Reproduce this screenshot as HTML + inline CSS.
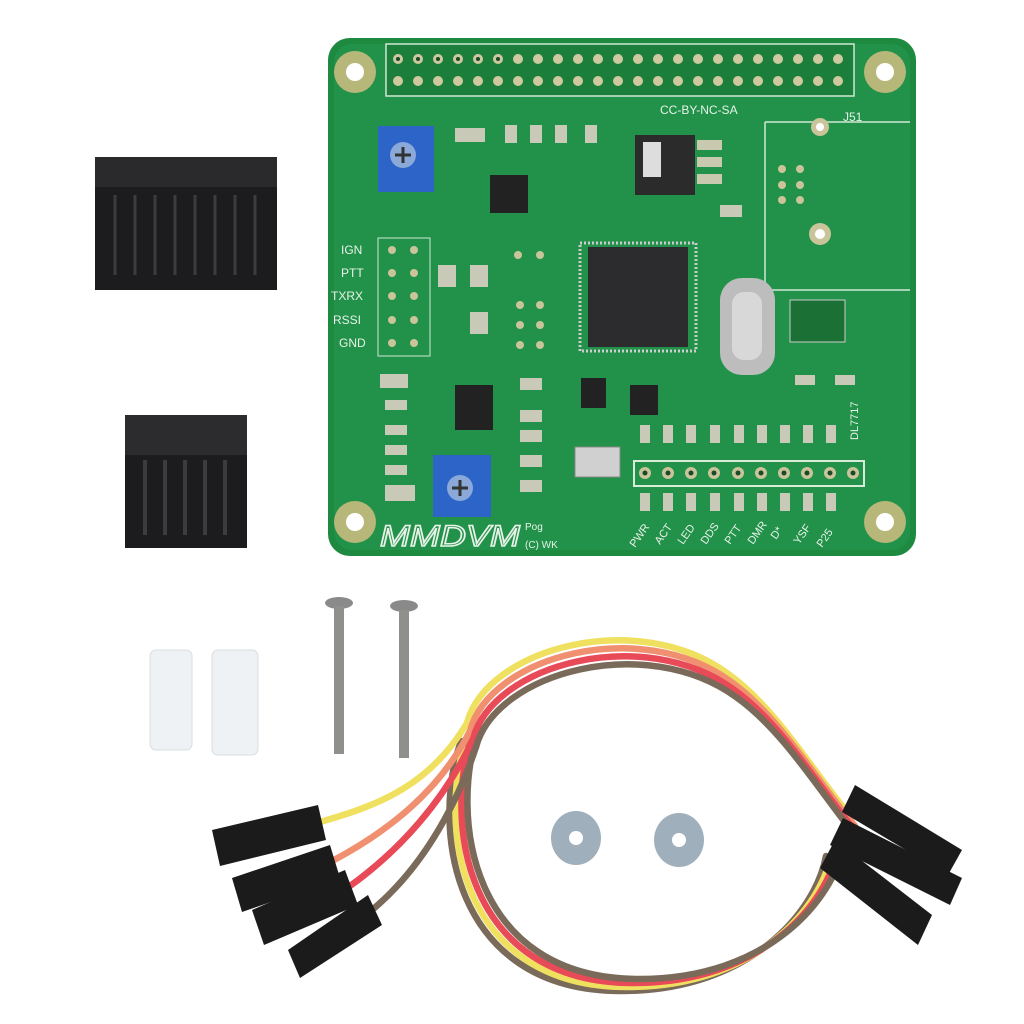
<!DOCTYPE html>
<html><head><meta charset="utf-8"><style>
html,body{margin:0;padding:0;background:#fff;}
svg{display:block}
text{font-family:"Liberation Sans",sans-serif;}
</style></head><body>
<svg width="1024" height="1024" viewBox="0 0 1024 1024" xmlns="http://www.w3.org/2000/svg">
<defs>
<path id="wa" d="M470 735 C490 660,640 620,730 685 C780 720,820 790,855 830"/>
<path id="wb" d="M470 735 C440 820,460 985,630 985 C760 985,825 905,835 850"/>
</defs>
<rect width="1024" height="1024" fill="#fff"/>
<!-- PCB -->
<rect x="328" y="38" width="588" height="518" rx="22" fill="#1e8a40"/>
<rect x="334" y="44" width="576" height="506" rx="18" fill="#22924a"/>
<g fill="#b8b77a"><circle cx="355" cy="72" r="21"/><circle cx="885" cy="72" r="21"/><circle cx="355" cy="522" r="21"/><circle cx="885" cy="522" r="21"/></g>
<g fill="#fff"><circle cx="355" cy="72" r="9"/><circle cx="885" cy="72" r="9"/><circle cx="355" cy="522" r="9"/><circle cx="885" cy="522" r="9"/></g>
<rect x="386" y="44" width="468" height="52" fill="#1c7e3b" stroke="#cfe8d4" stroke-width="1.5"/>
<g fill="#cfc9a0">
<circle cx="398" cy="59" r="5"/><circle cx="418" cy="59" r="5"/><circle cx="438" cy="59" r="5"/><circle cx="458" cy="59" r="5"/><circle cx="478" cy="59" r="5"/><circle cx="498" cy="59" r="5"/><circle cx="518" cy="59" r="5"/><circle cx="538" cy="59" r="5"/><circle cx="558" cy="59" r="5"/><circle cx="578" cy="59" r="5"/><circle cx="598" cy="59" r="5"/><circle cx="618" cy="59" r="5"/><circle cx="638" cy="59" r="5"/><circle cx="658" cy="59" r="5"/><circle cx="678" cy="59" r="5"/><circle cx="698" cy="59" r="5"/><circle cx="718" cy="59" r="5"/><circle cx="738" cy="59" r="5"/><circle cx="758" cy="59" r="5"/><circle cx="778" cy="59" r="5"/><circle cx="798" cy="59" r="5"/><circle cx="818" cy="59" r="5"/><circle cx="838" cy="59" r="5"/>
<circle cx="398" cy="81" r="5"/><circle cx="418" cy="81" r="5"/><circle cx="438" cy="81" r="5"/><circle cx="458" cy="81" r="5"/><circle cx="478" cy="81" r="5"/><circle cx="498" cy="81" r="5"/><circle cx="518" cy="81" r="5"/><circle cx="538" cy="81" r="5"/><circle cx="558" cy="81" r="5"/><circle cx="578" cy="81" r="5"/><circle cx="598" cy="81" r="5"/><circle cx="618" cy="81" r="5"/><circle cx="638" cy="81" r="5"/><circle cx="658" cy="81" r="5"/><circle cx="678" cy="81" r="5"/><circle cx="698" cy="81" r="5"/><circle cx="718" cy="81" r="5"/><circle cx="738" cy="81" r="5"/><circle cx="758" cy="81" r="5"/><circle cx="778" cy="81" r="5"/><circle cx="798" cy="81" r="5"/><circle cx="818" cy="81" r="5"/><circle cx="838" cy="81" r="5"/>
</g>
<g fill="#1a4a2a"><circle cx="398" cy="59" r="2"/><circle cx="418" cy="59" r="2"/><circle cx="438" cy="59" r="2"/><circle cx="458" cy="59" r="2"/><circle cx="478" cy="59" r="2"/><circle cx="498" cy="59" r="2"/></g>
<text x="660" y="114" font-size="12" fill="#e8f2e8">CC-BY-NC-SA</text>
<text x="843" y="121" font-size="12" fill="#e8f2e8">J51</text>
<path d="M765 122 H910 M765 122 V290 M765 290 H910" stroke="#cfe8d4" fill="none" stroke-width="1.5"/>
<circle cx="820" cy="127" r="9" fill="#c9c49a"/><circle cx="820" cy="127" r="4" fill="#fff"/>
<circle cx="820" cy="234" r="11" fill="#c9c49a"/><circle cx="820" cy="234" r="5" fill="#fff"/>
<g fill="#c9c49a"><circle cx="782" cy="169" r="4"/><circle cx="800" cy="169" r="4"/><circle cx="782" cy="185" r="4"/><circle cx="800" cy="185" r="4"/><circle cx="782" cy="200" r="4"/><circle cx="800" cy="200" r="4"/></g>
<rect x="635" y="135" width="60" height="60" fill="#2b2b2b"/><rect x="643" y="142" width="18" height="35" fill="#ddd"/>
<rect x="697" y="140" width="25" height="10" fill="#c9c9b0"/><rect x="697" y="157" width="25" height="10" fill="#c9c9b0"/><rect x="697" y="174" width="25" height="10" fill="#c9c9b0"/>
<rect x="378" y="126" width="56" height="66" fill="#2d64c8"/><circle cx="403" cy="155" r="13" fill="#8aa8d8"/><path d="M395 155h16M403 147v16" stroke="#333" stroke-width="3"/>
<rect x="433" y="455" width="58" height="62" fill="#2d64c8"/><circle cx="460" cy="488" r="13" fill="#8aa8d8"/><path d="M452 488h16M460 480v16" stroke="#333" stroke-width="3"/>
<rect x="490" y="175" width="38" height="38" fill="#222"/>
<rect x="455" y="385" width="38" height="45" fill="#222"/>
<rect x="588" y="247" width="100" height="100" fill="#2c2c2e"/>
<rect x="580" y="243" width="116" height="108" fill="none" stroke="#ccc" stroke-width="3" stroke-dasharray="2 2"/>
<rect x="720" y="278" width="55" height="97" rx="22" fill="#bdbdbd"/><rect x="732" y="292" width="30" height="68" rx="12" fill="#d8d8d8"/>
<rect x="575" y="447" width="45" height="30" fill="#d0d0d0" stroke="#888"/>
<rect x="581" y="378" width="25" height="30" fill="#222"/><rect x="630" y="385" width="28" height="30" fill="#222"/>
<g fill="#c9c9b8">
<rect x="455" y="128" width="30" height="14"/><rect x="505" y="125" width="12" height="18"/><rect x="530" y="125" width="12" height="18"/><rect x="555" y="125" width="12" height="18"/><rect x="585" y="125" width="12" height="18"/>
<rect x="380" y="374" width="28" height="14"/><rect x="385" y="485" width="30" height="16"/><rect x="720" y="205" width="22" height="12"/>
<rect x="438" y="265" width="18" height="22"/><rect x="470" y="265" width="18" height="22"/><rect x="470" y="312" width="18" height="22"/>
<rect x="520" y="378" width="22" height="12"/><rect x="520" y="410" width="22" height="12"/><rect x="520" y="430" width="22" height="12"/><rect x="520" y="455" width="22" height="12"/><rect x="520" y="480" width="22" height="12"/>
<rect x="385" y="400" width="22" height="10"/><rect x="385" y="425" width="22" height="10"/><rect x="385" y="445" width="22" height="10"/><rect x="385" y="465" width="22" height="10"/>
<rect x="795" y="375" width="20" height="10"/><rect x="835" y="375" width="20" height="10"/>
</g>
<rect x="790" y="300" width="55" height="42" fill="#1a7035" stroke="#ccc"/>
<rect x="378" y="238" width="52" height="118" fill="none" stroke="#cfe8d4"/>
<g fill="#c9c49a">
<circle cx="392" cy="250" r="4"/><circle cx="414" cy="250" r="4"/><circle cx="392" cy="273" r="4"/><circle cx="414" cy="273" r="4"/><circle cx="392" cy="296" r="4"/><circle cx="414" cy="296" r="4"/><circle cx="392" cy="320" r="4"/><circle cx="414" cy="320" r="4"/><circle cx="392" cy="343" r="4"/><circle cx="414" cy="343" r="4"/>
<circle cx="520" cy="305" r="4"/><circle cx="540" cy="305" r="4"/><circle cx="520" cy="325" r="4"/><circle cx="540" cy="325" r="4"/><circle cx="520" cy="345" r="4"/><circle cx="540" cy="345" r="4"/>
<circle cx="518" cy="255" r="4"/><circle cx="540" cy="255" r="4"/>
</g>
<g font-size="12" fill="#e8f2e8">
<text x="341" y="254">IGN</text><text x="341" y="277">PTT</text><text x="331" y="300">TXRX</text><text x="333" y="324">RSSI</text><text x="339" y="347">GND</text>
</g>
<g fill="#c9c9b8">
<rect x="640" y="425" width="10" height="18"/><rect x="663" y="425" width="10" height="18"/><rect x="686" y="425" width="10" height="18"/><rect x="710" y="425" width="10" height="18"/><rect x="734" y="425" width="10" height="18"/><rect x="757" y="425" width="10" height="18"/><rect x="780" y="425" width="10" height="18"/><rect x="803" y="425" width="10" height="18"/><rect x="826" y="425" width="10" height="18"/>
<rect x="640" y="493" width="10" height="18"/><rect x="663" y="493" width="10" height="18"/><rect x="686" y="493" width="10" height="18"/><rect x="710" y="493" width="10" height="18"/><rect x="734" y="493" width="10" height="18"/><rect x="757" y="493" width="10" height="18"/><rect x="780" y="493" width="10" height="18"/><rect x="803" y="493" width="10" height="18"/><rect x="826" y="493" width="10" height="18"/>
</g>
<rect x="634" y="461" width="230" height="25" fill="none" stroke="#d8ecd8" stroke-width="2"/>
<g fill="#c9c49a"><circle cx="645" cy="473" r="6"/><circle cx="668" cy="473" r="6"/><circle cx="691" cy="473" r="6"/><circle cx="714" cy="473" r="6"/><circle cx="738" cy="473" r="6"/><circle cx="761" cy="473" r="6"/><circle cx="784" cy="473" r="6"/><circle cx="807" cy="473" r="6"/><circle cx="830" cy="473" r="6"/><circle cx="853" cy="473" r="6"/></g>
<g fill="#1a4a2a"><circle cx="645" cy="473" r="2.5"/><circle cx="668" cy="473" r="2.5"/><circle cx="691" cy="473" r="2.5"/><circle cx="714" cy="473" r="2.5"/><circle cx="738" cy="473" r="2.5"/><circle cx="761" cy="473" r="2.5"/><circle cx="784" cy="473" r="2.5"/><circle cx="807" cy="473" r="2.5"/><circle cx="830" cy="473" r="2.5"/><circle cx="853" cy="473" r="2.5"/></g>
<g font-size="11" fill="#e8f2e8">
<text transform="translate(635,548) rotate(-55)">PWR</text><text transform="translate(660,545) rotate(-55)">ACT</text><text transform="translate(683,545) rotate(-55)">LED</text><text transform="translate(706,545) rotate(-55)">DDS</text><text transform="translate(730,545) rotate(-55)">PTT</text><text transform="translate(753,545) rotate(-55)">DMR</text><text transform="translate(776,540) rotate(-55)">D*</text><text transform="translate(799,545) rotate(-55)">YSF</text><text transform="translate(822,548) rotate(-55)">P25</text>
<text transform="translate(858,440) rotate(-90)">DL7717</text>
</g>
<text x="380" y="546" font-size="30" fill="none" stroke="#e8f2e8" stroke-width="1.5" font-style="italic" textLength="140" lengthAdjust="spacingAndGlyphs">MMDVM</text>
<text x="525" y="530" font-size="10" fill="#e8f2e8">Pog</text><text x="525" y="548" font-size="10" fill="#e8f2e8">(C) WK</text>

<!-- black connectors -->
<rect x="95" y="157" width="182" height="133" fill="#1c1c1e"/>
<rect x="95" y="157" width="182" height="30" fill="#2a2a2c"/>
<g stroke="#3c3c3e" stroke-width="3"><path d="M115 195v80M135 195v80M155 195v80M175 195v80M195 195v80M215 195v80M235 195v80M255 195v80"/></g>
<rect x="125" y="415" width="122" height="133" fill="#1c1c1e"/>
<rect x="125" y="415" width="122" height="40" fill="#2c2c2e"/>
<g stroke="#3c3c3e" stroke-width="4"><path d="M145 460v75M165 460v75M185 460v75M205 460v75M225 460v75"/></g>
<!-- standoffs -->
<rect x="150" y="650" width="42" height="100" rx="6" fill="#eef2f4" stroke="#d8dde0"/>
<rect x="212" y="650" width="46" height="105" rx="6" fill="#eef2f4" stroke="#d8dde0"/>
<!-- screws -->
<ellipse cx="339" cy="603" rx="14" ry="6" fill="#8a8a8a"/><rect x="334" y="606" width="10" height="148" fill="#8f8f8c"/>
<ellipse cx="404" cy="606" rx="14" ry="6" fill="#8a8a8a"/><rect x="399" y="610" width="10" height="148" fill="#8f8f8c"/>
<!-- nuts -->
<ellipse cx="576" cy="838" rx="25" ry="27" fill="#9fb0bc"/><circle cx="576" cy="838" r="7" fill="#fff"/>
<ellipse cx="679" cy="840" rx="25" ry="27" fill="#9fb0bc"/><circle cx="679" cy="840" r="7" fill="#fff"/>
<!-- wires -->
<g fill="none" stroke-width="6.5" stroke-linecap="round">
<use href="#wb" stroke="#7a6a5a" transform="translate(-9,6)"/>
<use href="#wb" stroke="#f0e060" transform="translate(-3,2)"/>
<use href="#wb" stroke="#e84a58" transform="translate(3,-2)"/>
<use href="#wb" stroke="#7a6a5a" transform="translate(9,-6)"/>
<path d="M320 822 C380 805,430 785,467 723" stroke="#f0e060"/>
<path d="M334 860 C390 830,440 790,470 731" stroke="#f09070"/>
<path d="M350 886 C400 850,445 800,473 739" stroke="#e84a58"/>
<path d="M372 910 C420 870,455 810,476 747" stroke="#7a6a5a"/>
<use href="#wa" stroke="#f0e060" transform="translate(-3,-12)"/>
<use href="#wa" stroke="#f09070" transform="translate(0,-4)"/>
<use href="#wa" stroke="#e84a58" transform="translate(3,4)"/>
<use href="#wa" stroke="#7a6a5a" transform="translate(6,12)"/>
</g>
<!-- wire connectors left -->
<g fill="#1b1b1b">
<polygon points="212,830 318,805 326,840 220,866"/>
<polygon points="232,878 330,845 340,878 242,912"/>
<polygon points="252,910 345,870 358,905 264,945"/>
<polygon points="288,950 368,895 382,925 300,978"/>
</g>
<!-- wire connectors right -->
<g fill="#1b1b1b">
<polygon points="855,785 962,850 948,875 842,812"/>
<polygon points="843,818 962,878 950,905 830,845"/>
<polygon points="835,840 932,915 918,945 820,868"/>
</g>
</svg>
</body></html>
